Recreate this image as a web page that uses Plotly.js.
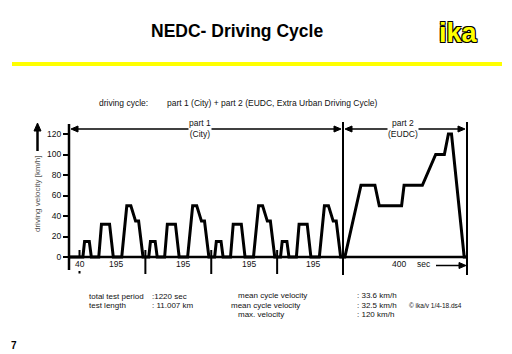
<!DOCTYPE html>
<html>
<head>
<meta charset="utf-8">
<script src="https://cdn.plot.ly/plotly-3.0.1.min.js"></script>
<style>html,body{margin:0;padding:0;background:#fff;}#chart{width:512px;height:354px;}</style>
</head>
<body>
<div id="chart"></div>
<script>
// ---- data (time in s, velocity in km/h) ----
const cityT = [0, 40,
  50, 55, 69, 75, 97, 105, 129, 140, 165, 180, 192, 206, 215, 228,
  245, 250, 264, 270, 292, 300, 324, 335, 360, 375, 387, 401, 410, 423,
  440, 445, 459, 465, 487, 495, 519, 530, 555, 570, 582, 596, 605, 618,
  635, 640, 654, 660, 682, 690, 714, 725, 750, 765, 777, 791, 800, 813,
  820];
const cityV = [0, 0,
  0, 15, 15, 0, 0, 32, 32, 0, 0, 50, 50, 35, 35, 0,
  0, 15, 15, 0, 0, 32, 32, 0, 0, 50, 50, 35, 35, 0,
  0, 15, 15, 0, 0, 32, 32, 0, 0, 50, 50, 35, 35, 0,
  0, 15, 15, 0, 0, 32, 32, 0, 0, 50, 50, 35, 35, 0,
  0];
const eudcT = [820, 826, 878, 923, 937, 1009, 1017, 1076, 1119, 1147, 1160, 1170, 1211, 1220];
const eudcV = [0, 0, 70, 70, 50, 50, 70, 70, 100, 100, 120, 120, 0, 0];

const yTickVals = [0, 20, 40, 60, 80, 100, 120];
const cityTickVals = [40, 148, 345, 542, 730];
const cityTickText = ['40', '195', '195', '195', '195'];
const eudcTickVals = [1000];
const eudcTickText = ['400'];
const cycleBounds = [235, 430, 625];
const warmupEnd = 40;

// ---- helpers ----
const W = 512, H = 354;
const px = x => x / W;
const py = y => 1 - y / H;
const FONT = 'Arial, "Liberation Sans", sans-serif';

function txt(x, y, text, o) {
  o = o || {};
  return Object.assign({
    xref: 'paper', yref: 'paper', x: px(x), y: py(y), text: text,
    showarrow: false, xanchor: 'left', yanchor: 'middle',
    font: {family: FONT, size: 8.5, color: '#111'}
  }, o);
}
function pline(x0, y0, x1, y1, w, c) {
  return {type: 'line', xref: 'paper', yref: 'paper', x0: px(x0), y0: py(y0), x1: px(x1), y1: py(y1),
          line: {color: c || '#000', width: w}};
}
function head(x, y, dir, len, half) {
  let pts;
  if (dir === 'left') pts = [[x, y], [x + len, y - half], [x + len, y + half]];
  else if (dir === 'right') pts = [[x, y], [x - len, y - half], [x - len, y + half]];
  else pts = [[x, y], [x - half, y + len], [x + half, y + len]];
  const p = 'M' + pts.map(q => px(q[0]) + ',' + py(q[1])).join(' L') + ' Z';
  return {type: 'path', xref: 'paper', yref: 'paper', path: p, fillcolor: '#000', line: {color: '#000', width: 1}};
}

const traces = [
  {x: cityT, y: cityV, xaxis: 'x', yaxis: 'y', type: 'scatter', mode: 'lines',
   line: {color: '#000', width: 3}, hoverinfo: 'skip'},
  {x: eudcT, y: eudcV, xaxis: 'x2', yaxis: 'y', type: 'scatter', mode: 'lines',
   line: {color: '#000', width: 3}, hoverinfo: 'skip'}
];

const shapes = [
  pline(12, 64, 502, 64, 4, '#ffff00'),
  pline(69, 124, 69, 270, 2.5),
  pline(69, 257, 467, 257, 2.5),
  pline(343, 122, 343, 275, 2),
  pline(467, 122, 467, 275, 2),
  // part arrows
  pline(73, 129, 339, 129, 1.5),
  head(71, 129, 'left', 7, 3),
  head(341, 129, 'right', 7, 3),
  pline(347, 129, 463, 129, 1.5),
  head(345, 129, 'left', 7, 3),
  head(465, 129, 'right', 7, 3),
  // y-title arrow
  pline(37.5, 130, 37.5, 151, 2.5),
  head(37.5, 123, 'up', 8, 3.5),
  // sec arrow
  pline(436, 265.5, 460, 265.5, 1.5),
  head(466, 265.5, 'right', 7, 3),
  // warm-up mark
  {type: 'line', xref: 'x', yref: 'paper', x0: warmupEnd, x1: warmupEnd, y0: py(250), y1: py(257), line: {color: '#000', width: 2}},
  {type: 'rect', xref: 'x', yref: 'paper', x0: warmupEnd - 3, x1: warmupEnd + 3, y0: py(273.5), y1: py(271), fillcolor: '#000', line: {width: 0}}
];
cycleBounds.forEach(b => shapes.push({type: 'line', xref: 'x', yref: 'paper', x0: b, x1: b, y0: py(250), y1: py(274), line: {color: '#000', width: 2}}));

const annotations = [
  txt(237, 31, '<b>NEDC- Driving Cycle</b>', {xanchor: 'center', font: {family: FONT, size: 17.5, color: '#000'}}),
  txt(458, 33, '<b>ika</b>', {xanchor: 'center', font: {family: FONT, size: 27, color: '#ffff00',
      shadow: '1px 1px 0 #000, -1px -1px 0 #000, 1px -1px 0 #000, -1px 1px 0 #000'}}),
  txt(97, 103, 'driving cycle:'),
  txt(165, 103, 'part 1 (City) + part 2 (EUDC, Extra Urban Driving Cycle)'),
  txt(200, 129, 'part 1<br>(City)', {xanchor: 'center', bgcolor: '#fff', borderpad: 0, align: 'center'}),
  txt(403, 129, 'part 2<br>(EUDC)', {xanchor: 'center', bgcolor: '#fff', borderpad: 0, align: 'center'}),
  txt(38, 194, 'driving velocity [km/h]', {xanchor: 'center', textangle: -90, font: {family: FONT, size: 8, color: '#555'}}),
  txt(415, 263.5, 'sec', {font: {family: FONT, size: 8.5, color: '#111'}}),
  txt(87, 296, 'total test period', {font: {family: FONT, size: 8, color: '#111'}}),
  txt(150, 296, ':1220 sec', {font: {family: FONT, size: 8, color: '#111'}}),
  txt(87, 305, 'test length', {font: {family: FONT, size: 8, color: '#111'}}),
  txt(150, 305, ': 11.007 km', {font: {family: FONT, size: 8, color: '#111'}}),
  txt(236, 295.5, 'mean cycle velocity', {font: {family: FONT, size: 8, color: '#111'}}),
  txt(229, 305, 'mean cycle velocity', {font: {family: FONT, size: 8, color: '#111'}}),
  txt(236, 314.5, 'max. velocity', {font: {family: FONT, size: 8, color: '#111'}}),
  txt(355, 295.5, ': 33.6 km/h', {font: {family: FONT, size: 8, color: '#111'}}),
  txt(355, 305, ': 32.5 km/h', {font: {family: FONT, size: 8, color: '#111'}}),
  txt(355, 314.5, ': 120 km/h', {font: {family: FONT, size: 8, color: '#111'}}),
  txt(407, 305, '© ika/v 1/4-18.ds4', {font: {family: FONT, size: 6.5, color: '#111'}}),
  txt(14, 345, '<b>7</b>', {xanchor: 'center', font: {family: FONT, size: 10, color: '#000'}})
];
cityTickVals.forEach((v, i) => annotations.push({xref: 'x', yref: 'paper', x: v, y: py(264), text: cityTickText[i],
  showarrow: false, xanchor: 'center', yanchor: 'middle', font: {family: FONT, size: 8.5, color: '#111'}}));
eudcTickVals.forEach((v, i) => annotations.push({xref: 'x2', yref: 'paper', x: v, y: py(263.5), text: eudcTickText[i],
  showarrow: false, xanchor: 'center', yanchor: 'middle', font: {family: FONT, size: 8.5, color: '#111'}}));

const layout = {
  width: W, height: H, margin: {l: 0, r: 0, t: 0, b: 0},
  paper_bgcolor: '#fff', plot_bgcolor: 'rgba(0,0,0,0)', showlegend: false,
  font: {family: FONT, size: 8.5, color: '#111'},
  xaxis: {domain: [px(69), px(343)], range: [8.9, 820], anchor: 'y', showgrid: false, zeroline: false,
          showline: false, showticklabels: false, ticks: '', fixedrange: true},
  xaxis2: {domain: [px(343), px(467)], range: [820, 1220], anchor: 'y', showgrid: false, zeroline: false,
           showline: false, showticklabels: false, ticks: '', fixedrange: true},
  yaxis: {domain: [1 - 263.15 / H, 1 - 127.85 / H], range: [-6, 126], anchor: 'x', showgrid: false, zeroline: false,
          showline: false, tickmode: 'array', tickvals: yTickVals, ticks: 'outside', ticklen: 5, tickwidth: 2,
          tickcolor: '#000', tickfont: {family: FONT, size: 8.5, color: '#111'}, fixedrange: true},
  shapes: shapes,
  annotations: annotations
};

Plotly.newPlot('chart', traces, layout, {staticPlot: true, displayModeBar: false});
</script>
</body>
</html>
